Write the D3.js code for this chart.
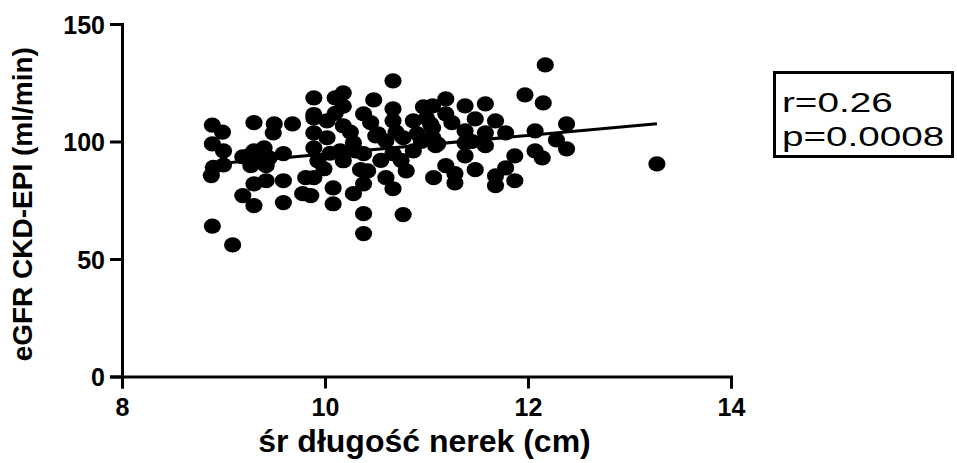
<!DOCTYPE html>
<html>
<head>
<meta charset="utf-8">
<script src="https://cdn.jsdelivr.net/npm/d3@7"></script>
<style>
  html, body { margin: 0; padding: 0; background: #fff; }
  svg { display: block; }
  text { font-family: "Liberation Sans", Arial, sans-serif; fill: #000; }
</style>
</head>
<body>
<svg id="chart" width="957" height="463"></svg>
<script>
// Mean kidney length (cm) vs eGFR CKD-EPI (ml/min)
const kidneyLength = [
  8.89, 8.99, 8.89, 9.00, 8.90, 9.00, 8.88, 8.89, 9.09, 9.19,
  9.30, 9.50, 9.49, 9.68, 9.30, 9.40, 9.27, 9.42, 9.35, 9.59,
  9.30, 9.42, 9.59, 9.19, 9.30, 9.59, 9.78, 9.81, 9.89, 10.67,
  10.18, 10.10, 10.48, 10.18, 10.38, 10.67, 10.97, 9.89, 10.02, 10.18,
  10.67, 10.87, 10.52, 9.89, 10.02, 10.28, 10.60, 10.77, 10.91, 9.89,
  10.15, 10.38, 10.67, 10.87, 9.93, 10.18, 9.99, 10.42, 10.60, 10.80,
  9.89, 10.38, 10.67, 10.08, 10.28, 9.86, 10.08, 10.38, 10.77, 10.38,
  11.07, 11.97, 12.15, 11.19, 11.06, 11.38, 11.58, 11.19, 11.48, 11.68,
  11.04, 11.38, 11.58, 11.78, 12.07, 11.06, 11.38, 11.58, 11.09, 12.07,
  12.14, 11.38, 11.87, 11.19, 11.78, 11.48, 11.28, 11.68, 11.28, 11.68,
  11.87, 12.17, 12.38, 12.28, 12.38, 13.27, 10.50, 11.06, 11.11, 9.89,
  10.25, 10.30, 10.45, 10.55, 10.70, 10.75, 10.95, 11.00, 10.10, 10.35,
  11.25, 11.45, 10.05, 9.25, 9.45
];
const egfr = [
  107.0, 104.0, 99.0, 96.0, 89.0, 90.0, 85.5, 64.0, 56.0, 93.5,
  108.0, 107.5, 103.7, 107.5, 96.0, 97.3, 89.7, 89.7, 92.6, 94.8,
  82.0, 83.3, 83.3, 77.0, 72.7, 74.0, 77.8, 84.6, 118.6, 125.8,
  120.7, 118.6, 117.7, 115.0, 111.8, 113.9, 114.7, 110.0, 108.8, 106.7,
  108.8, 108.8, 103.3, 103.7, 101.6, 99.4, 100.3, 101.6, 103.3, 97.3,
  96.0, 94.8, 94.8, 96.0, 91.8, 91.8, 88.4, 87.5, 84.6, 87.5,
  84.6, 82.0, 79.9, 80.3, 77.8, 77.0, 73.5, 69.3, 68.9, 60.8,
  84.6, 119.8, 116.4, 118.1, 115.2, 115.2, 116.0, 111.8, 109.6, 108.8,
  107.5, 104.5, 103.7, 103.7, 104.5, 101.6, 99.4, 98.2, 98.2, 96.0,
  93.0, 93.9, 93.9, 89.7, 88.8, 88.0, 86.3, 85.4, 82.4, 81.2,
  83.3, 132.6, 107.5, 100.7, 96.9, 90.5, 102.4, 105.8, 99.0, 111.5,
  104.0, 96.0, 108.0, 92.0, 104.0, 92.0, 100.0, 110.0, 112.0, 88.0,
  108.0, 100.0, 95.0, 94.0, 93.0
];

// Linear fit (intercept, slope) and the statistics shown in the box
const fitIntercept = 55.4;
const fitSlope = 3.93;
const statLines = ["r=0.26", "p=0.0008"];

const xTicks = [8, 10, 12, 14];
const yTicks = [0, 50, 100, 150];
const xTitle = "śr długość nerek (cm)";
const yTitle = "eGFR CKD-EPI (ml/min)";

const svg = d3.select("#chart");

const x = d3.scaleLinear().domain([8, 14]).range([122, 731]);
const y = d3.scaleLinear().domain([0, 150]).range([376.5, 24]);

// Axes
const xAxis = svg.append("g")
  .attr("transform", `translate(0,${y(0)})`)
  .call(d3.axisBottom(x).tickValues(xTicks).tickSize(12).tickPadding(8).tickFormat(d3.format("d")));
const yAxis = svg.append("g")
  .attr("transform", `translate(${x(8)},0)`)
  .call(d3.axisLeft(y).tickValues(yTicks).tickSize(12).tickPadding(5).tickFormat(d3.format("d")));

[xAxis, yAxis].forEach(g => {
  g.select(".domain").attr("stroke", "#000").attr("stroke-width", 3);
  g.selectAll(".tick line").attr("stroke", "#000").attr("stroke-width", 3);
  g.selectAll(".tick text")
    .attr("fill", "#000")
    .style("font-family", "'Liberation Sans', Arial, sans-serif")
    .style("font-weight", "bold")
    .style("font-size", "25px");
});
xAxis.selectAll(".tick text").attr("dy", "0.78em");
yAxis.selectAll(".tick text").attr("dy", "0.36em");

// Axis titles
svg.append("text")
  .attr("x", (x(8) + x(14)) / 2 - 2)
  .attr("y", 452)
  .attr("text-anchor", "middle")
  .style("font-weight", "bold")
  .style("font-size", "32px")
  .text(xTitle);

svg.append("text")
  .attr("transform", `translate(32,${(y(0) + y(150)) / 2 + 4}) rotate(-90)`)
  .attr("text-anchor", "middle")
  .style("font-weight", "bold")
  .style("font-size", "28px")
  .text(yTitle);

// Data points
const points = kidneyLength.map((v, i) => ({ len: v, gfr: egfr[i] }));
svg.append("g")
  .selectAll("ellipse")
  .data(points)
  .join("ellipse")
  .attr("cx", d => x(d.len))
  .attr("cy", d => y(d.gfr))
  .attr("rx", 8.6)
  .attr("ry", 7.6)
  .attr("fill", "#000");

// Regression line across the observed range
const [xMin, xMax] = d3.extent(kidneyLength);
svg.append("line")
  .attr("x1", x(xMin)).attr("y1", y(fitIntercept + fitSlope * xMin))
  .attr("x2", x(xMax)).attr("y2", y(fitIntercept + fitSlope * xMax))
  .attr("stroke", "#000")
  .attr("stroke-width", 3);

// Statistics box
const box = svg.append("g");
box.append("rect")
  .attr("x", 774.5).attr("y", 72.5)
  .attr("width", 178).attr("height", 84)
  .attr("fill", "#fff")
  .attr("stroke", "#000")
  .attr("stroke-width", 3);
statLines.forEach((s, i) => {
  box.append("text")
    .attr("transform", `translate(782,${112 + i * 34}) scale(1.38,1)`)
    .style("font-size", "28px")
    .text(s);
});
</script>
</body>
</html>
